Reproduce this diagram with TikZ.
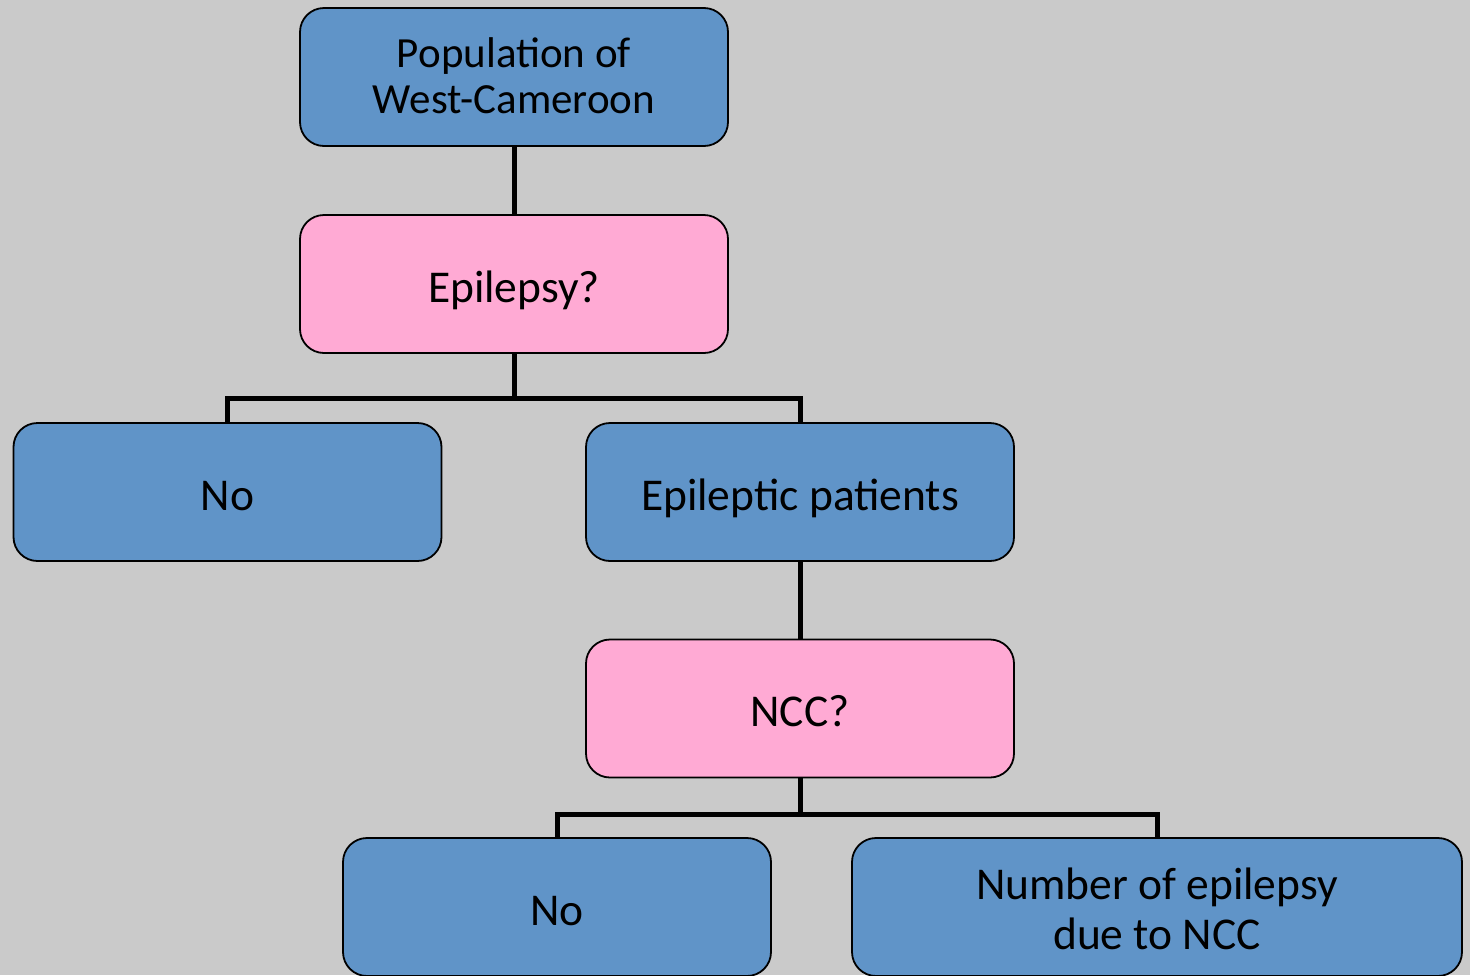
\documentclass[tikz,border=0pt]{standalone}
\usepackage{fontspec}
\setmainfont{Carlito}
\definecolor{bg}{HTML}{CACACA}
\definecolor{boxblue}{HTML}{6094C8}
\definecolor{boxpink}{HTML}{FFAAD4}
\newcommand{\onetext}[1]{\raisebox{-18pt}[0pt][0pt]{#1}}
\newcommand{\twotext}[3]{\raisebox{#1}[0pt][0pt]{\begin{tabular}[t]{@{}c@{}}#2\\#3\end{tabular}}}
\tikzset{
  box/.style={draw=black, line width=1.8pt, rounded corners=24pt, minimum width=428pt, minimum height=138pt, inner sep=0pt, align=center, font=\fontsize{45.5}{50}\selectfont},
  bluebox/.style={box, fill=boxblue},
  pinkbox/.style={box, fill=boxpink},
  conn/.style={line width=5pt}
}
\begin{document}
\begin{tikzpicture}[x=1pt,y=-1pt]
\fill[bg] (0,0) rectangle (1470,975);
\useasboundingbox (0,0) rectangle (1470,975);
\begin{scope}
\clip (0,0) rectangle (1470,975);
\node[bluebox, font=\fontsize{43}{46}\selectfont] (pop) at (514,77) {\twotext{10pt}{Population of}{West-Cameroon}};
\node[pinkbox] (epi) at (514,284) {\onetext{Epilepsy?}};
\node[bluebox] (no1) at (227.5,492) {\onetext{No}};
\node[bluebox] (pat) at (800,492) {\onetext{Epileptic patients}};
\node[pinkbox] (ncc) at (800,708.5) {\onetext{NCC?}};
\node[bluebox] (no2) at (557,907) {\onetext{No}};
\node[bluebox, minimum width=610pt] (num) at (1157,907) {\twotext{8pt}{Number of epilepsy}{due to NCC}};
\coordinate (j1) at (514,398);
\coordinate (j2) at (800,814);
\draw[conn] (pop) -- (epi);
\draw[conn] (epi) -- (j1) -| (no1);
\draw[conn] (j1) -| (pat);
\draw[conn] (pat) -- (ncc);
\draw[conn] (ncc) -- (j2) -| (no2);
\draw[conn] (j2) -| (num);
\end{scope}
\end{tikzpicture}
\end{document}
